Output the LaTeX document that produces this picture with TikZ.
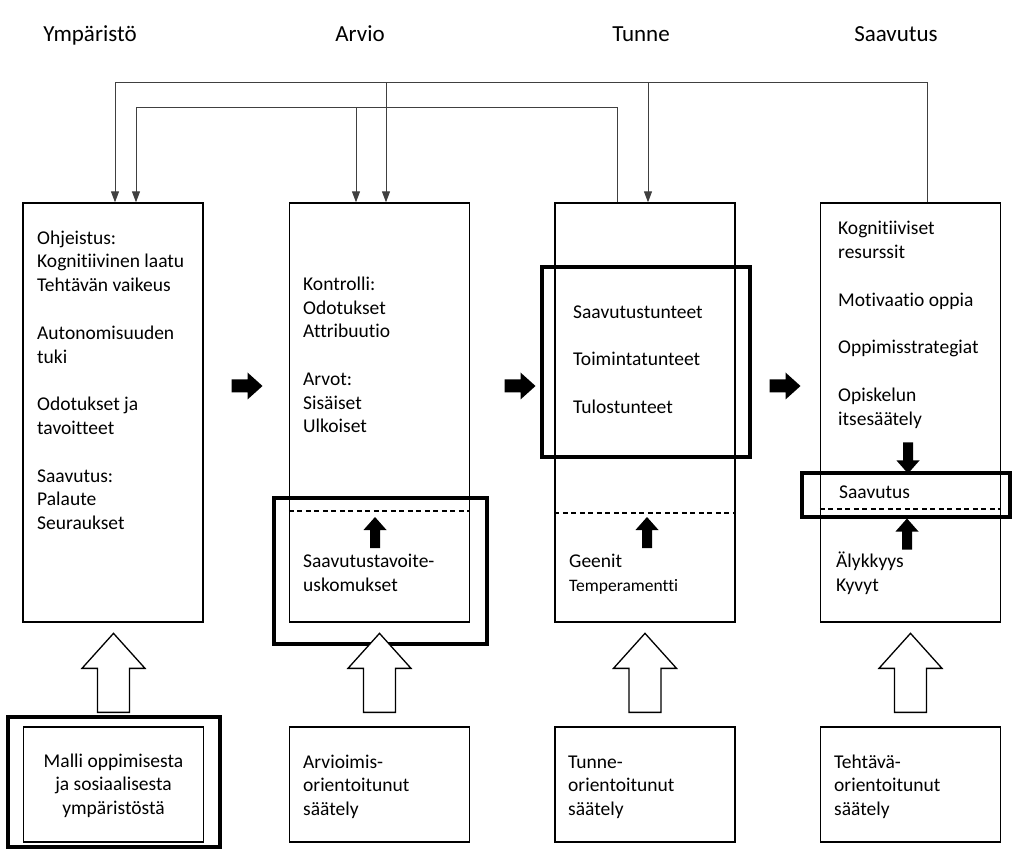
\documentclass[tikz,border=0pt]{standalone}
\usepackage{fontspec}
\setmainfont{Carlito}[Ligatures=NoCommon]
\usetikzlibrary{arrows.meta}

\begin{document}
\begin{tikzpicture}[x=1pt, y=-1pt,
    font=\fontsize{19.5}{23.8}\selectfont,
    box/.style={draw, line width=1.3pt, minimum width=180pt, minimum height=419pt, inner sep=0pt},
    srcbox/.style={draw, line width=1.3pt, minimum width=180pt, minimum height=115pt, inner sep=0pt},
    hilite/.style={draw, line width=4.5pt},
    txt/.style={anchor=base west, align=left, inner sep=0pt},
    header/.style={font=\fontsize{23}{28}\selectfont, anchor=base, inner sep=0pt},
    fb/.style={draw=black!75, line width=1pt, -{Triangle[width=8pt,length=11pt]}},
    divider/.style={line width=1.2pt, dash pattern=on 5pt off 3.5pt},
    pics/rarrow/.style={code={\fill (-15.5,-6.5) -- (0.5,-6.5) -- (0.5,-13.5) -- (15.5,0)
        -- (0.5,13.5) -- (0.5,6.5) -- (-15.5,6.5) -- cycle;}},
    pics/uparrow/.style={code={\fill (-5,15.5) -- (-5,-2.5) -- (-11.5,-2.5) -- (0,-15.5)
        -- (11.5,-2.5) -- (5,-2.5) -- (5,15.5) -- cycle;}},
    pics/openarrow/.style={code={\draw[line width=1.3pt, fill=white] (-16,0) -- (-16,-44)
        -- (-31.5,-44) -- (0,-79) -- (31.5,-44) -- (16,-44) -- (16,0) -- cycle;}}]
    \useasboundingbox (0,0) rectangle (1013,850);

    % headers
    \node[header] (hymp) at (90,42) {Ympäristö};
    \node[header] (harv) at (360,42) {Arvio};
    \node[header] (htun) at (641,42) {Tunne};
    \node[header] (hsaa) at (896,42) {Saavutus};

    % main columns
    \node[box] (ymp) at (113,412.5) {};
    \node[box] (arv) at (379.5,412.5) {};
    \node[box] (tun) at (645,412.5) {};
    \node[box] (saa) at (910.5,412.5) {};

    % (base = last line)
    \node[txt] (ymptxt) at (37,529.6) {Ohjeistus:\\Kognitiivinen laatu\\Tehtävän vaikeus\\[23.8pt]
        Autonomisuuden\\tuki\\[23.8pt]Odotukset ja\\tavoitteet\\[23.8pt]Saavutus:\\Palaute\\Seuraukset};
    \node[txt] (arvtxt) at (303,433) {Kontrolli:\\Odotukset\\Attribuutio\\[23.8pt]Arvot:\\Sisäiset\\Ulkoiset};
    \node[txt] (tuntxt) at (573,413.2) {Saavutustunteet\\[23.8pt]Toimintatunteet\\[23.8pt]Tulostunteet};
    \node[txt] (saatxt) at (838,425.4) {Kognitiiviset\\resurssit\\[23.8pt]Motivaatio oppia\\[23.8pt]
        Oppimisstrategiat\\[23.8pt]Opiskelun\\itsesäätely};

    \node[txt] (arvlow) at (303,591.5) {Saavutustavoite-\\uskomukset};
    \node[txt] (tunlow) at (569,591) {Geenit\\{\fontsize{17.5}{23.8}\selectfont Temperamentti}};
    \node[txt] (saalow) at (836,591.5) {Älykkyys\\Kyvyt};
    \node[txt] (saamid) at (839,498) {Saavutus};

    \draw[divider] (arv.west |- 0,511) -- (arv.east |- 0,511);
    \draw[divider] (tun.west |- 0,513) -- (tun.east |- 0,513);
    \draw[divider] (saa.west |- 0,509) -- (saa.east |- 0,509);

    \draw[hilite] (274,498) rectangle (487,644);
    \draw[hilite] (542,267) rectangle (750,457);
    \draw[hilite] (802,473) rectangle (1010,517);

    \pic at (375,532.5) {uparrow};
    \pic at (647,532.5) {uparrow};
    \pic at (907,534) {uparrow};
    \pic[rotate=180] at (908,458) {uparrow};

    \pic at (247,386) {rarrow};
    \pic at (520,386) {rarrow};
    \pic at (785,386) {rarrow};

    % feedback loops
    \coordinate (outer) at (0,83);
    \coordinate (inner) at (0,108);
    \draw[fb] ([xshift=16.5pt]saa.north) |- ([xshift=2pt]ymp.north |- outer) -- ([xshift=2pt]ymp.north);
    \draw[fb] ([xshift=6.5pt]arv.north |- outer) -- ([xshift=6.5pt]arv.north);
    \draw[fb] ([xshift=3pt]tun.north |- outer) -- ([xshift=3pt]tun.north);
    \draw[fb] ([xshift=-28pt]tun.north) |- ([xshift=23pt]ymp.north |- inner) -- ([xshift=23pt]ymp.north);
    \draw[fb] ([xshift=-23.5pt]arv.north |- inner) -- ([xshift=-23.5pt]arv.north);

    % regulation sources
    \node[srcbox] (ympsrc) at (113.5,784.5) {};
    \node[srcbox] (arvsrc) at (379.5,784.5) {};
    \node[srcbox] (tunsrc) at (645,784.5) {};
    \node[srcbox] (saasrc) at (910.5,784.5) {};
    \draw[hilite] (8,717) rectangle (220,847);

    \node[txt, anchor=base, align=center] (ympsrctxt) at (113.5,814.6) {Malli oppimisesta\\ja sosiaalisesta\\ympäristöstä};
    \node[txt] (arvsrctxt) at (303,815.6) {Arvioimis-\\orientoitunut\\säätely};
    \node[txt] (tunsrctxt) at (568,815.6) {Tunne-\\orientoitunut\\säätely};
    \node[txt] (saasrctxt) at (834,815.6) {Tehtävä-\\orientoitunut\\säätely};

    \pic at ([yshift=14pt]ympsrc.north) {openarrow};
    \pic at ([yshift=14pt]arvsrc.north) {openarrow};
    \pic at ([yshift=14pt]tunsrc.north) {openarrow};
    \pic at ([yshift=14pt]saasrc.north) {openarrow};
\end{tikzpicture}
\end{document}
